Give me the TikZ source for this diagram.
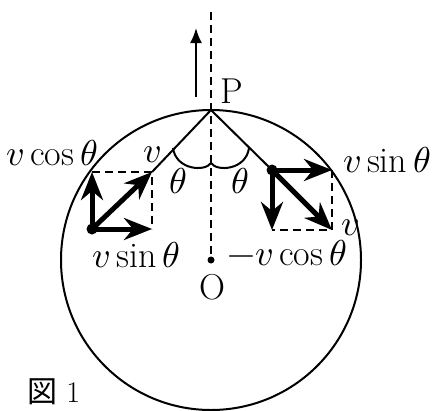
\documentclass[tikz,border=0pt]{standalone}
\usepackage{fontspec}
\usepackage{unicode-math}
\setmathfont{Latin Modern Math}
\newfontfamily\cjk{Noto Sans CJK JP}
\usetikzlibrary{arrows.meta}
\begin{document}
\begin{tikzpicture}[x=1pt,y=-1pt,
  thinline/.style={line width=2pt},
  vec/.style={line width=5pt, -{Stealth[length=28pt,width=22pt,inset=9pt]}},
  dashline/.style={line width=2.5pt, dash pattern=on 8pt off 5pt},
  lbl/.style={font=\fontsize{36}{40}\selectfont, inner sep=0pt},
  bigdot/.style={circle, fill, inner sep=0pt, minimum size=11pt},
  smalldot/.style={circle, fill, inner sep=0pt, minimum size=7pt}]
\useasboundingbox (0,0) rectangle (433,410);
% key points
\coordinate (P) at (211,110);
\coordinate (O) at (211,260);
\coordinate (T) at (211,12);
\coordinate (A1) at (196,97);
\coordinate (A2) at (196,28);
\coordinate (Lv) at (152,172);
\coordinate (Lc) at (92,172);
\coordinate (Ls) at (152,229);
\coordinate (Rs) at (332,170);
\coordinate (Rc) at (272,230);
\coordinate (Rv) at (332,230);
\coordinate (a1) at (173,148);
\coordinate (a2) at (211,163);
\coordinate (a3) at (249,148);
% circle
\draw[thinline] (O) circle[radius=150];
% vertical dashed axis
\draw[dashline] (T) -- (O);
% velocity of P
\draw[line width=2pt, -{Latex[length=15pt,width=12pt]}] (A1) -- (A2);
% chords
\node[bigdot] (L) at (92,229) {};
\node[bigdot] (R) at (272,170) {};
\node[smalldot] (Od) at (O) {};
\draw[thinline] (P) -- (Lv);
\draw[thinline] (P) -- (R.center);
% angle marks
\draw[thinline] (a1) .. controls (176,170) and (205,172) .. (a2);
\draw[thinline] (a2) .. controls (217,172) and (246,170) .. (a3);
% left components
\draw[dashline] (Lc) -- (Lv) -- (Ls);
\draw[vec] (L.center) -- (Lc);
\draw[vec] (L.center) -- (Ls);
\draw[vec] (L.center) -- (Lv);
% right components
\draw[dashline] (Rs) -- (Rv) -- (Rc);
\draw[vec] (R.center) -- (Rs);
\draw[vec] (R.center) -- (Rc);
\draw[vec] (R.center) -- (Rv);
% labels
\node[lbl] (lP) at (232,91) {P};
\node[lbl] (lO) at (212,287) {O};
\node[lbl, anchor=base east] (l1) at (98,165) {$v\cos\theta$};
\node[lbl, anchor=base] (l2) at (152,162) {$v$};
\node[lbl, anchor=base] (l3) at (178,193) {$\theta$};
\node[lbl, anchor=base] (l4) at (136,267) {$v\sin\theta$};
\node[lbl, anchor=base west] (l5) at (343,172) {$v\sin\theta$};
\node[lbl, anchor=base] (l6) at (350,235) {$v$};
\node[lbl, anchor=base east] (l7) at (347,265) {$-v\cos\theta$};
\node[lbl, anchor=base] (l8) at (240,193) {$\theta$};
\node[font=\fontsize{30}{34}\selectfont, inner sep=0pt, anchor=base west] (fig) at (27,402) {{\cjk 図} 1};
\end{tikzpicture}
\end{document}
